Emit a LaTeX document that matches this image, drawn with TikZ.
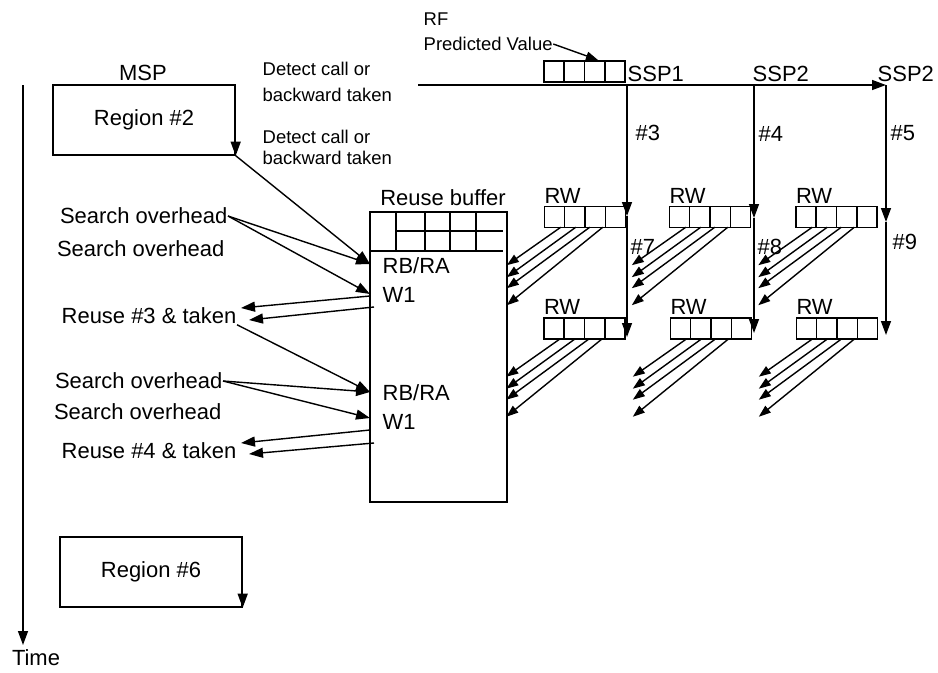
\documentclass[tikz,border=0pt]{standalone}
\usepackage{fontspec}
\setmainfont{Liberation Sans}
\usetikzlibrary{arrows.meta, calc}

\begin{document}
\begin{tikzpicture}[
      x=0.02cm, y=-0.02cm, line width=0.8pt,
      lbl/.style={inner sep=0pt, font=\fontsize{12.5}{14}\selectfont},
      sml/.style={inner sep=0pt, align=left, font=\fontsize{10.5}{12}\selectfont},
      region/.style={rectangle, draw, minimum width=3.64cm, minimum height=1.4cm,
                     font=\fontsize{12.5}{14}\selectfont},
      regbox/.style={rectangle, draw, inner sep=0pt, minimum width=1.62cm, minimum height=0.42cm},
      arr/.style={-{Triangle[length=0.28cm, width=0.2cm]}},
      sarr/.style={-{Triangle[length=0.24cm, width=0.17cm]}}
    ]
    \useasboundingbox (0,0) rectangle (938,673);

    % Time axis
    \coordinate (ttop) at (23,85);
    \coordinate (tend) at (23,645);
    \draw[arr] (ttop) -- (tend);
    \node[lbl] (time) at (36,658) {Time};

    % MSP side
    \node[lbl] (msp) at (143,73) {MSP};
    \node[region] (reg2) at (144,120) {Region \#2};
    \node[region] (reg6) at (151,572) {Region \#6};
    \draw[arr] (reg2.north east) -- (reg2.south east);
    \draw[arr] (reg6.north east) -- (reg6.south east);

    \node[sml, anchor=north west] (det1) at (262,61) {Detect call or\\[3pt]backward taken};
    \node[sml, anchor=north west] (det2) at (262,129) {Detect call or\\backward taken};

    % RF and SSPs
    \node[sml, anchor=west] (rf) at (423,19) {RF};
    \node[sml, anchor=west] (pv) at (423,44) {Predicted Value};
    \node[regbox] (rfreg) at (584.5,71.5) {};
    \coordinate (rfin) at (598,60);
    \draw[sarr] (pv.east) -- (rfin);

    \node[lbl, anchor=west] (ssp1) at (627,74) {SSP1};
    \node[lbl, anchor=west] (ssp2) at (752,74) {SSP2};
    \node[lbl, anchor=west] (ssp3) at (877,74) {SSP2};

    \foreach \n/\cx/\ya/\yb in {1/627/216/337, 2/754/218/333, 3/886/222/335} {
      \coordinate (top\n) at (\cx,85);
      \coordinate (mid\n) at (\cx,\ya);
      \coordinate (bot\n) at (\cx,\yb);
      \draw[arr] (top\n) -- (mid\n);
      \draw[arr] (mid\n) -- (bot\n);
    }
    \coordinate (det) at (418,85);
    \draw[arr] (det) -- (top3);

    \node[lbl, anchor=west] at (635,133) {\#3};
    \node[lbl, anchor=west] at (758,134) {\#4};
    \node[lbl, anchor=west] at (890,133) {\#5};
    \node[lbl, anchor=west] at (630,247) {\#7};
    \node[lbl, anchor=west] at (757,247) {\#8};
    \node[lbl, anchor=west] at (892,242) {\#9};

    % Reuse buffer
    \node[lbl] (rblbl) at (443,198) {Reuse buffer};
    \node[draw, inner sep=0pt, minimum width=2.74cm, minimum height=5.8cm] (buf) at (438.5,357) {};
    \draw (370,251) -- (503,251);
    \draw (396,231) -- (503,231);
    \foreach \gx in {396,425,450,476}
      \draw (\gx,212) -- (\gx,251);
    \node[lbl, anchor=west] (rb1) at (382,266) {RB/RA};
    \node[lbl, anchor=west] (w1a) at (382,295) {W1};
    \node[lbl, anchor=west] (rb2) at (382,393) {RB/RA};
    \node[lbl, anchor=west] (w1b) at (382,422) {W1};

    % Register windows
    \foreach \r/\rx/\ry in {a1/585/217, b1/710/217, c1/836.5/217,
                            a2/584.5/328.5, b2/711/328.5, c2/837/328.5} {
      \node[regbox] (rw\r) at (\rx,\ry) {};
      \node[lbl, anchor=south west] at ($(rw\r.north west)+(0,-2)$) {RW};
      \foreach \s/\t in {17/37, 32/49, 46/60, 59/77}
        \draw[sarr] ($(rw\r.south west)+(\s,-1)$) -- ($(rw\r.south west)+(-37,\t)$);
    }
    \foreach \r in {rfreg, rwa1, rwb1, rwc1, rwa2, rwb2, rwc2}
      \foreach \k in {1,2,3}
        \draw ($(\r.south west)!\k/4!(\r.south east)$) -- ($(\r.north west)!\k/4!(\r.north east)$);

    % Search / reuse
    \node[lbl, anchor=east] (so1) at (228,216) {Search overhead};
    \node[lbl, anchor=east] (so2) at (225,249) {Search overhead};
    \node[lbl, anchor=east] (re3) at (237,316) {Reuse \#3 \& taken};
    \node[lbl, anchor=east] (so3) at (223,381) {Search overhead};
    \node[lbl, anchor=east] (so4) at (222,412) {Search overhead};
    \node[lbl, anchor=east] (re4) at (237,451) {Reuse \#4 \& taken};

    \coordinate (inA) at (370,264);
    \coordinate (inB) at (370,294);
    \coordinate (outA) at (370,296);
    \coordinate (outB) at (374,307);
    \coordinate (inC) at (370,392);
    \coordinate (inD) at (370,418);
    \coordinate (outC) at (370,430);
    \coordinate (outD) at (374,443);
    \coordinate (r3a) at (241,308);
    \coordinate (r3b) at (249,320);
    \coordinate (r4a) at (241,443);
    \coordinate (r4b) at (249,454);

    \draw[arr] (reg2.south east) -- (inA);
    \draw[arr] (so1.east) -- (inA);
    \draw[arr] (so1.east) -- (inB);
    \draw[arr] (outA) -- (r3a);
    \draw[arr] (outB) -- (r3b);
    \draw[arr] (re3.south east) -- (inC);
    \draw[arr] (so3.east) -- (inC);
    \draw[arr] (so3.east) -- (inD);
    \draw[arr] (outC) -- (r4a);
    \draw[arr] (outD) -- (r4b);
  \end{tikzpicture}
\end{document}
